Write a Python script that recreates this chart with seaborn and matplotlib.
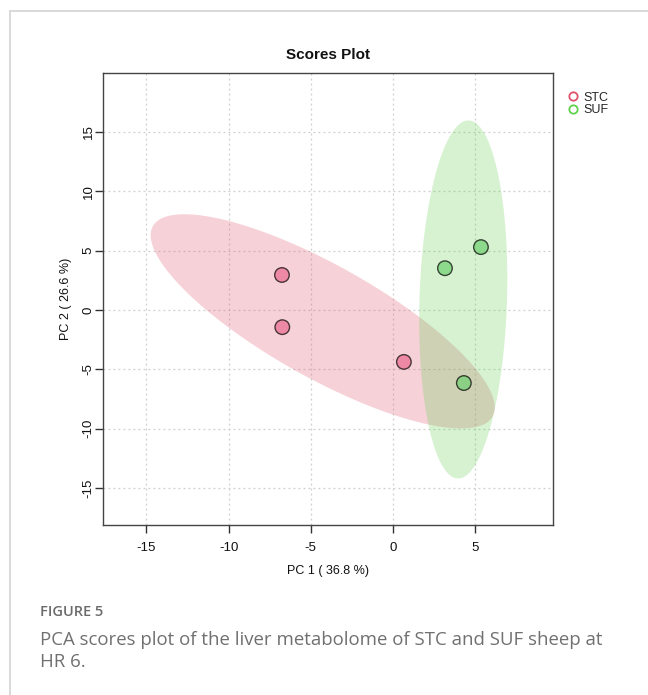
import numpy as np
import pandas as pd
import matplotlib
matplotlib.use("Agg")
import matplotlib.pyplot as plt
from matplotlib.lines import Line2D
import seaborn as sns

# PCA scores per sample
groups = ["STC", "STC", "STC", "SUF", "SUF", "SUF"]
pc1 = [-6.75, -6.73, 0.67, 3.17, 5.36, 4.32]
pc2 = [2.95, -1.45, -4.38, 3.52, 5.30, -6.16]
group_order = ["STC", "SUF"]
group_colors = ["#DF536B", "#61D04F"]
point_colors = ["#EC6A90", "#6FD070"]
xticks = [-15, -10, -5, 0, 5]
yticks = [-15, -10, -5, 0, 5, 10, 15]

df = pd.DataFrame({"PC1": pc1, "PC2": pc2, "group": groups})

sns.set_theme(style="white")
plt.rcParams["font.family"] = ["Liberation Sans", "DejaVu Sans"]

fig = plt.figure(figsize=(6.48, 6.95), dpi=100)
ax = fig.add_axes([0.159, 0.2446, 0.694, 0.6504])

ax.set_xlim(-17.64, 9.73)
ax.set_ylim(-18.13, 19.98)

# grid lines at tick positions
for xv in xticks:
    ax.axvline(xv, color="#cfcfcf", lw=0.9, ls=(0, (1.5, 2.5)), zorder=0)
for yv in yticks:
    ax.axhline(yv, color="#cfcfcf", lw=0.9, ls=(0, (1.5, 2.5)), zorder=0)


def conf_ellipse(x, y, level_t=np.sqrt(5.991464547), n=200):
    x = np.asarray(x)
    y = np.asarray(y)
    cov = np.cov(x, y)
    vals, vecs = np.linalg.eigh(cov)
    theta = np.linspace(0, 2 * np.pi, n)
    circle = np.vstack([np.cos(theta), np.sin(theta)])
    pts = vecs @ (np.sqrt(vals)[:, None] * circle) * level_t
    return pts[0] + x.mean(), pts[1] + y.mean()


# 95% confidence ellipses
for g, c in zip(group_order, group_colors):
    sub = df[df["group"] == g]
    ex, ey = conf_ellipse(sub["PC1"], sub["PC2"])
    ax.fill(ex, ey, color=c, alpha=0.26, lw=0, zorder=1)

sns.scatterplot(
    data=df, x="PC1", y="PC2", hue="group", hue_order=group_order,
    palette=point_colors, s=110, alpha=0.7, edgecolor="black",
    linewidth=1.0, legend=False, ax=ax, zorder=3,
)

ax.set_xticks(xticks)
ax.set_yticks(yticks)
ax.set_xticklabels([str(v) for v in xticks], fontsize=9.5)
ax.set_yticklabels([str(v) for v in yticks], fontsize=9.5, rotation=90, va="center")
ax.tick_params(axis="both", direction="out", length=6, width=1.0, color="#333333",
               left=True, bottom=True, labelcolor="#111111")
ax.tick_params(axis="x", pad=6)
ax.tick_params(axis="y", pad=0)
for sp in ax.spines.values():
    sp.set_color("#444444")
    sp.set_linewidth(1.0)

ax.set_xlabel("PC 1 ( 36.8 %)", fontsize=9, labelpad=8, color="#111111")
ax.set_ylabel("PC 2 ( 26.6 %)", fontsize=9, labelpad=8, color="#111111")
ax.set_title("Scores Plot", fontsize=11, fontweight="bold", pad=10, color="#111111")

handles = [Line2D([0], [0], marker="o", ls="", markerfacecolor="none",
                  markeredgecolor=c, markeredgewidth=1.3, markersize=6)
           for c in group_colors]
ax.legend(handles, group_order, loc="upper left", bbox_to_anchor=(1.02, 0.97),
          frameon=False, fontsize=9, handletextpad=0.3, labelspacing=0.05,
          borderaxespad=0, handlelength=1.0)

# page frame lines
fig.add_artist(Line2D([10 / 648, 10 / 648], [0, 1 - 11 / 695], color="#d3d3d3", lw=1.2))
fig.add_artist(Line2D([10 / 648, 1], [1 - 11 / 695, 1 - 11 / 695], color="#d3d3d3", lw=1.2))

# caption
fig.text(40 / 648, 1 - 612 / 695, "FIGURE 5", fontsize=10.5, fontweight="semibold",
         color="#6b6b6b", family=["Open Sans", "DejaVu Sans"], va="center")
fig.text(40 / 648, 1 - 651 / 695,
         "PCA scores plot of the liver metabolome of STC and SUF sheep at\nHR 6.",
         fontsize=13.45, color="#707070", family=["Open Sans", "DejaVu Sans"],
         va="center", linespacing=1.25)

fig.savefig("out.png", dpi=100)
